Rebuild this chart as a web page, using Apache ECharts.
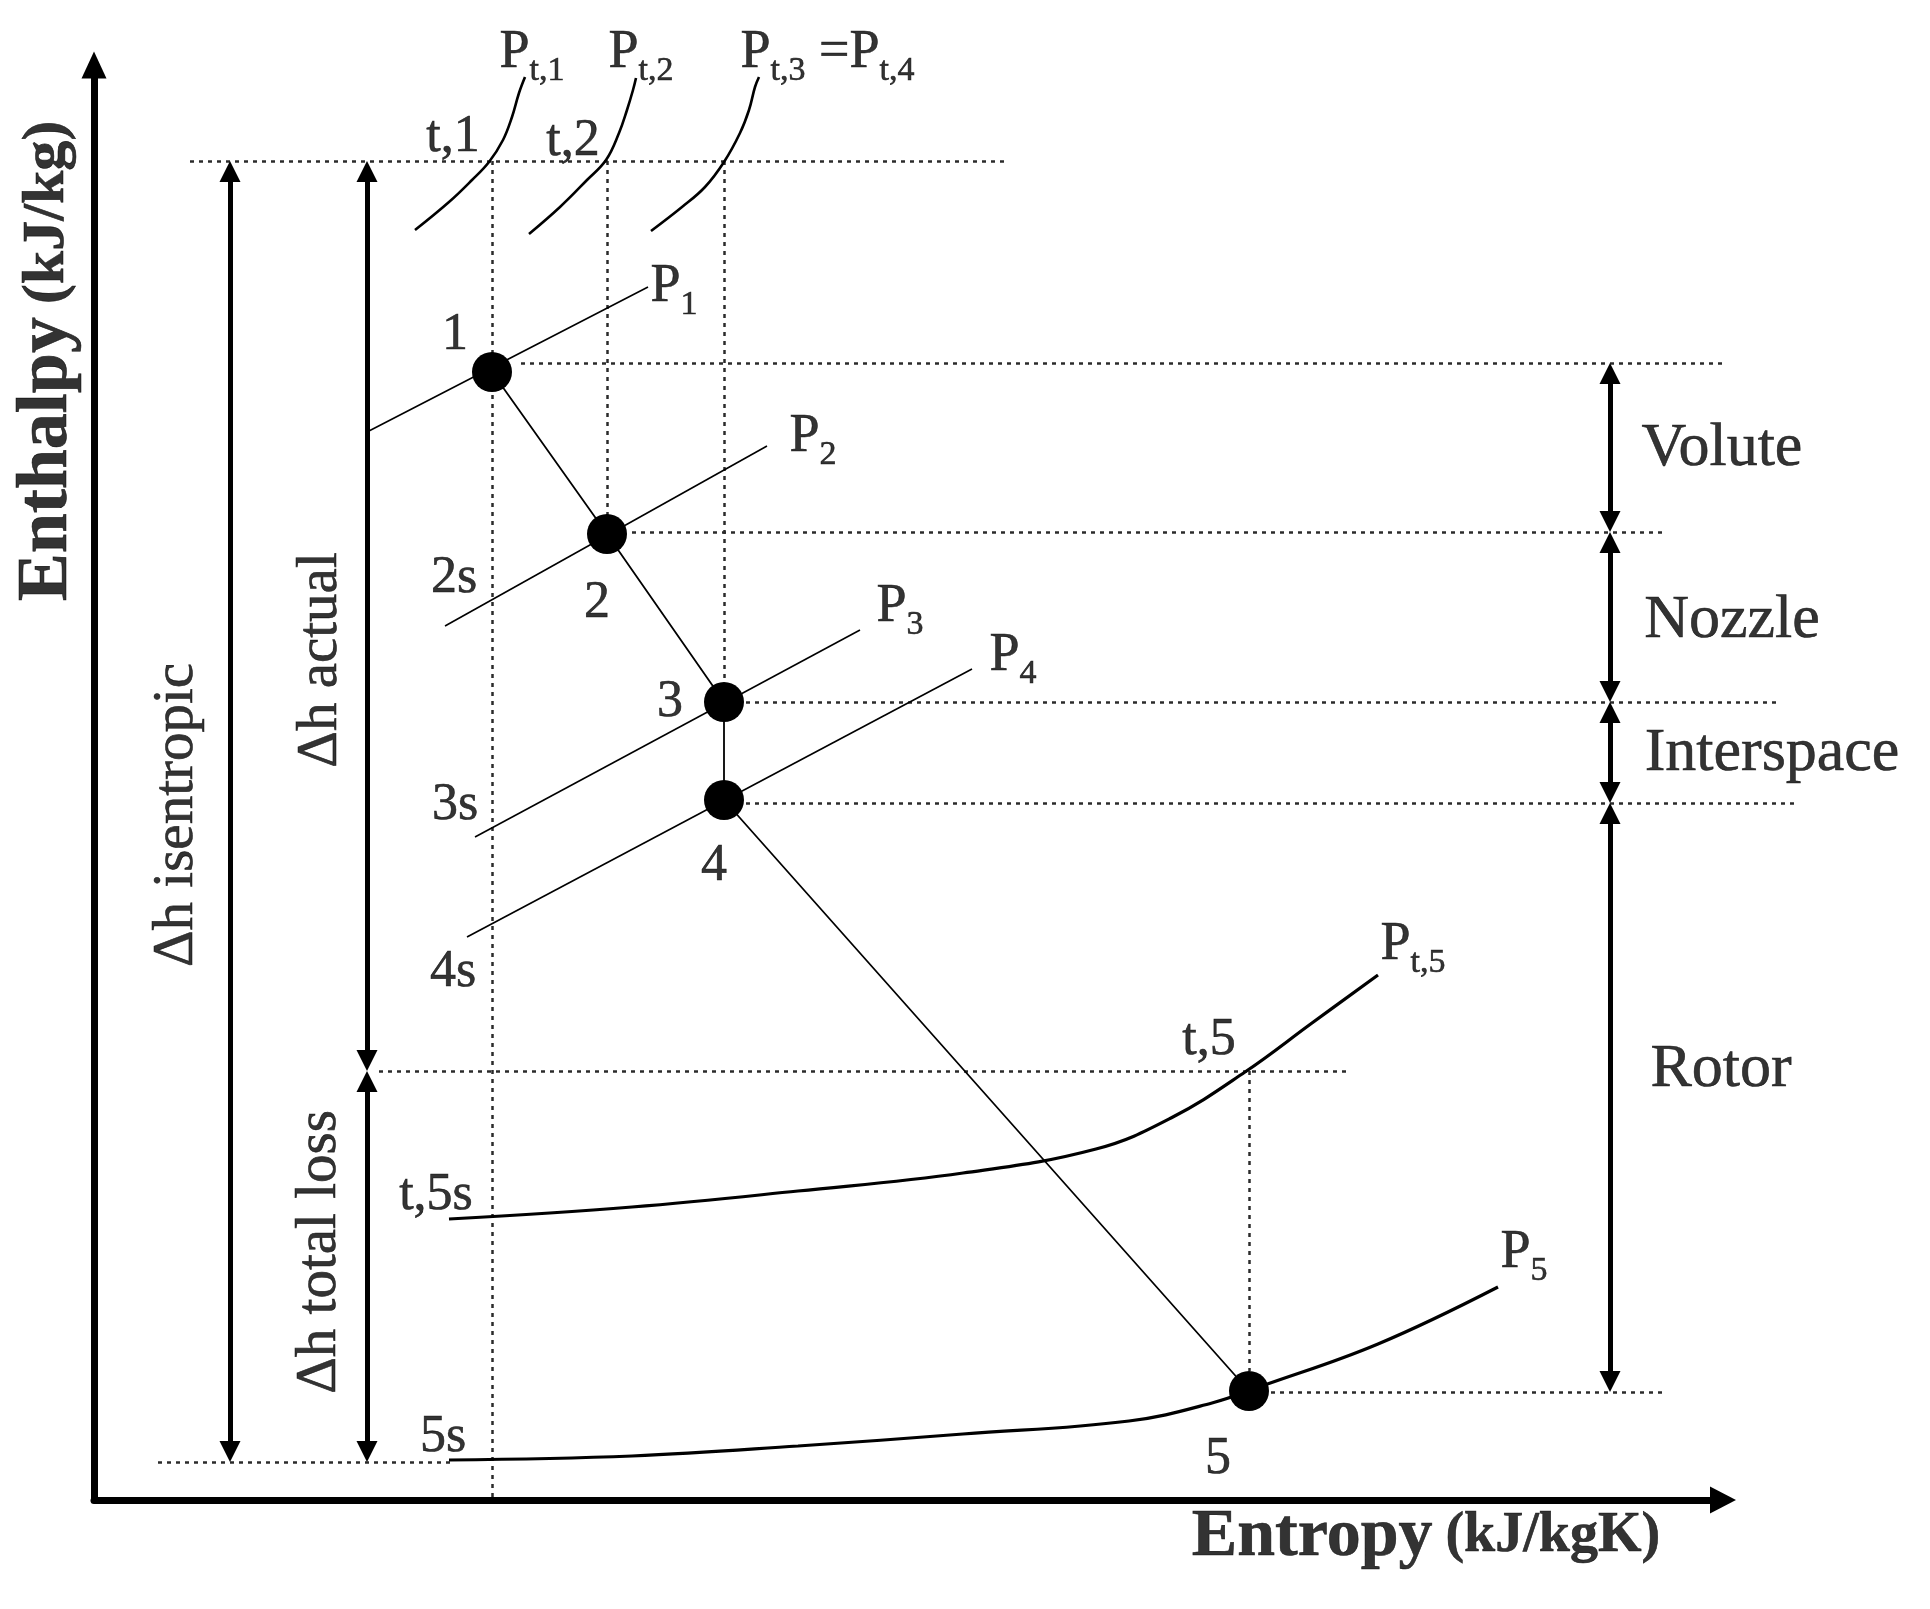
<!DOCTYPE html>
<html>
<head>
<meta charset="utf-8">
<script src="https://cdn.jsdelivr.net/npm/echarts@6/dist/echarts.min.js"></script>
<style>
  html, body { margin: 0; padding: 0; background: #fff; }
  #main { width: 1930px; height: 1609px; }
</style>
</head>
<body>
<div id="main"></div>
<script>
// diagram units: s = entropy, h = enthalpy (no ticks, schematic only)

// process states 1..5
const stateNames = ['1', '2', '3', '4', '5']
const stateS = [398, 513, 630, 630, 1155]
const stateH = [1128, 966, 798, 700, 109]

// static pressure lines
const isoP1 = [[273, 1068], [554, 1213]]
const isoP2 = [[351, 874], [673, 1054]]
const isoP3 = [[381, 663], [766, 870]]
const isoP4 = [[373, 563], [878, 831]]
const isoP5 = [[355, 40], [538, 44], [704, 54], [869, 66], [1035, 79], [1118, 97], [1168, 114], [1284, 156], [1404, 213]]

// total pressure lines
const isoPt1 = [[321, 1270], [355, 1298], [378, 1320], [395, 1338], [409, 1360], [418, 1383], [425, 1407], [431, 1423]]
const isoPt2 = [[435, 1266], [466, 1293], [493, 1320], [512, 1340], [525, 1367], [533, 1390], [539, 1410], [542, 1422]]
const isoPt3 = [[557, 1269], [588, 1293], [611, 1313], [630, 1338], [646, 1367], [655, 1390], [661, 1413], [665, 1423]]
const isoPt5 = [[355, 281], [538, 293], [704, 309], [869, 327], [1002, 351], [1077, 382], [1151, 428], [1218, 477], [1284, 525]]

// dotted guides: horizontal [sFrom, sTo, h] and vertical [s, hFrom, hTo]
const guideH = [[96, 913, 1339], [427, 1629, 1137], [538, 1568, 968], [652, 1685, 798], [652, 1703, 697], [285, 1255, 429], [1177, 1568, 108], [64, 361, 38]]
const guideV = [[398, 1339, 0], [513, 1339, 985], [630, 1339, 820], [1155, 429, 129]]

// stages (right brackets)
const stageNames = ['Volute', 'Nozzle', 'Interspace', 'Rotor']
const stageTop = [1137, 968, 798, 697]
const stageBottom = [968, 798, 697, 108]
const stageS = 1516
const stageLabelS = [1628, 1638, 1678, 1627]
const stageLabelH = [1051, 879, 746, 430]

// enthalpy drops (left brackets)
const dropNames = ['Δh isentropic', 'Δh actual', 'Δh total loss']
const dropS = [136, 273, 273]
const dropTop = [1339, 1339, 429]
const dropBottom = [38, 429, 38]
const dropLabelS = [83, 227, 226]
const dropLabelH = [685, 840, 248]

// point labels
const markNames = ['1', '2', '3', '4', '5', '2s', '3s', '4s', '5s', 't,5s', 't,5', 't,1', 't,2']
const markS = [361, 503, 576, 620, 1124, 360, 361, 359, 349, 342, 1115, 359, 479]
const markH = [1165, 897, 798, 634, 41, 922, 695, 528, 63, 305, 460, 1363, 1359]

// pressure labels P with subscript
const presSubs = ['t,1', 't,2', '1', '2', '3', '4', 't,5', '5']
const presS = [405, 514, 556, 695, 782, 895, 1286, 1406]
const presH = [1447, 1447, 1213, 1063, 893, 844, 555, 247]

const serif = '"Liberation Serif", "Times New Roman", serif'
const arrowHead = 21
const ink = { color: '#000', textBorderColor: '#000', textBorderWidth: 0.6, fontFamily: serif }

let chart = echarts.init(document.getElementById('main'))

let curve = (data, width, smooth) => ({
  type: 'line',
  data: data,
  symbol: 'none',
  smooth: smooth,
  silent: true,
  clip: false,
  z: 3,
  lineStyle: { color: '#000', width: width }
})

let guides = guideH.map(g => ({ coords: [[g[0], g[2]], [g[1], g[2]]] }))
  .concat(guideV.map(g => ({ coords: [[g[0], g[1]], [g[0], g[2]]] })))

let brackets = []
stageNames.forEach((n, i) => {
  brackets.push({ coords: [[stageS, stageTop[i] - arrowHead / 2], [stageS, stageBottom[i] + arrowHead / 2]] })
})
dropNames.forEach((n, i) => {
  brackets.push({ coords: [[dropS[i], dropTop[i] - arrowHead / 2], [dropS[i], dropBottom[i] + arrowHead / 2]] })
})

let labels = []
markNames.forEach((n, i) => {
  labels.push({ name: n, value: [markS[i], markH[i]] })
})
stageNames.forEach((n, i) => {
  labels.push({ name: n, value: [stageLabelS[i], stageLabelH[i]], label: { fontSize: 62 } })
})
dropNames.forEach((n, i) => {
  labels.push({ name: n, value: [dropLabelS[i], dropLabelH[i]], label: { fontSize: 57, rotate: 90 } })
})

let subLabel = { show: true, position: 'right', distance: 0, ...ink }
presSubs.forEach((n, i) => {
  labels.push({ name: 'P' + n, value: [presS[i], presH[i]], label: { ...subLabel, formatter: `{p|P}{s|${n}}` } })
})
labels.push({ name: 'Pt3=Pt4', value: [646, 1447], label: { ...subLabel, formatter: '{p|P}{s|t,3}{p| =P}{s|t,4}' } })

// axis titles
labels.push({ name: 'Entropy', value: [1332, -37], label: { formatter: '{a|Entropy} {b|(kJ/kgK)}' } })
labels.push({ name: 'Enthalpy', value: [-47, 1139], label: { rotate: 90, formatter: '{c|Enthalpy} {d|(kJ/kg)}' } })

let option = {
  animation: false,
  backgroundColor: '#fff',
  grid: { left: 94, top: 65, right: 207, bottom: 109 },
  xAxis: {
    type: 'value', min: 0, max: 1629,
    axisLine: { show: true, onZero: false, symbol: ['none', 'triangle'], symbolSize: [27, 26], lineStyle: { color: '#000', width: 7 } },
    axisTick: { show: false }, axisLabel: { show: false }, splitLine: { show: false }
  },
  yAxis: {
    type: 'value', min: 0, max: 1435,
    axisLine: { show: true, onZero: false, symbol: ['none', 'triangle'], symbolSize: [25, 27], lineStyle: { color: '#000', width: 7 } },
    axisTick: { show: false }, axisLabel: { show: false }, splitLine: { show: false }
  },
  series: [
    {
      type: 'lines', coordinateSystem: 'cartesian2d', silent: true, clip: false, z: 1,
      lineStyle: { color: '#2b2b2b', width: 2.5, type: [4, 5], opacity: 1 },
      data: guides
    },
    {
      type: 'lines', coordinateSystem: 'cartesian2d', silent: true, clip: false, z: 2,
      symbol: ['triangle', 'triangle'], symbolSize: arrowHead,
      lineStyle: { color: '#000', width: 5, opacity: 1 },
      data: brackets
    },
    curve(isoP1, 1.6, false),
    curve(isoP2, 1.6, false),
    curve(isoP3, 1.6, false),
    curve(isoP4, 1.6, false),
    curve(isoPt1, 2.6, 0.4),
    curve(isoPt2, 2.6, 0.4),
    curve(isoPt3, 2.6, 0.4),
    curve(isoPt5, 3.2, 0.4),
    curve(isoP5, 3.2, 0.4),
    {
      type: 'line',
      data: stateS.map((s, i) => ({ name: stateNames[i], value: [s, stateH[i]] })),
      symbol: 'circle', symbolSize: 40, showSymbol: true, silent: true, z: 4,
      itemStyle: { color: '#000' },
      lineStyle: { color: '#000', width: 1.8 }
    },
    {
      type: 'scatter', silent: true, clip: false, z: 5,
      symbolSize: 1,
      itemStyle: { color: 'transparent' },
      label: {
        show: true, position: 'inside', fontSize: 52, ...ink,
        formatter: '{b}',
        rich: {
          p: { fontSize: 54, lineHeight: 70, ...ink },
          s: { fontSize: 34, lineHeight: 34, verticalAlign: 'bottom', ...ink },
          a: { fontSize: 68, fontWeight: 'bold', ...ink },
          b: { fontSize: 56, fontWeight: 'bold', ...ink },
          c: { fontSize: 72, fontWeight: 'bold', ...ink },
          d: { fontSize: 60, fontWeight: 'bold', ...ink }
        }
      },
      data: labels
    }
  ]
}

chart.setOption(option)
</script>
</body>
</html>
